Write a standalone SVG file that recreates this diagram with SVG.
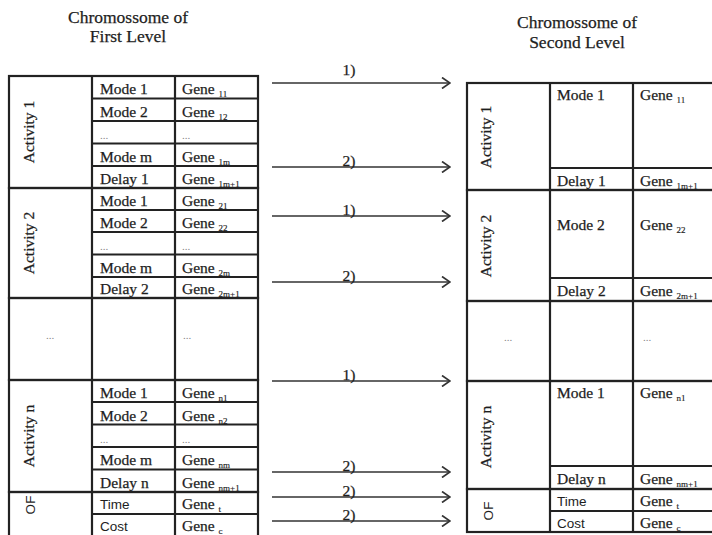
<svg xmlns="http://www.w3.org/2000/svg" width="712" height="535" viewBox="0 0 712 535">
<style>
.t{font-family:"Liberation Serif","Times New Roman",serif;font-size:15.5px;fill:#1e1e1e;stroke:#1e1e1e;stroke-width:0.25}
.ti{font-family:"Liberation Serif","Times New Roman",serif;font-size:17.5px;fill:#1e1e1e;stroke:#1e1e1e;stroke-width:0.25;text-anchor:middle}
.s{font-family:"Liberation Sans",Arial,sans-serif;font-size:13.5px;fill:#1e1e1e}
.sub{font-size:9px;fill:#1e1e1e;stroke:#1e1e1e;stroke-width:0.15}
.d{font-family:"Liberation Serif",serif;font-size:11px;fill:#888}
.g{fill:none;stroke:#222;stroke-width:2.2}
.a{fill:none;stroke:#333;stroke-width:1.7}
.lbl{font-family:"Liberation Serif","Times New Roman",serif;font-size:15.5px;fill:#1e1e1e;stroke:#1e1e1e;stroke-width:0.25;text-anchor:middle}
</style>
<defs>
<marker id="ah" viewBox="0 0 10 12" refX="9" refY="6" markerWidth="10" markerHeight="12" markerUnits="userSpaceOnUse" orient="auto">
<path d="M1,0.5 L9,6 L1,11.5" fill="none" stroke="#333" stroke-width="1.7"/>
</marker>
</defs>
<rect width="712" height="535" fill="#fff"/>

<g id="title-first">
<text class="ti" x="128" y="23">Chromossome of</text>
<text class="ti" x="128" y="42">First Level</text>
</g>
<g id="title-second">
<text class="ti" x="577" y="28">Chromossome of</text>
<text class="ti" x="577" y="48">Second Level</text>
</g>

<!-- LEFT TABLE -->
<g id="first-activity1">
<rect class="g" x="9" y="76" width="249" height="112"/>
<path class="g" d="M92,76V188M175,76V188M92,98.5H258M92,121H258M92,143.5H258M92,166H258"/>
<text class="t" transform="rotate(-90 34 132)" x="34" y="132" text-anchor="middle">Activity 1</text>
<text class="t" x="100" y="94">Mode 1</text><text class="t" x="182" y="94">Gene <tspan class="sub" dy="3">11</tspan></text>
<text class="t" x="100" y="116.5">Mode 2</text><text class="t" x="182" y="116.5">Gene <tspan class="sub" dy="3">12</tspan></text>
<text class="d" x="100" y="139">...</text><text class="d" x="182" y="139">...</text>
<text class="t" x="100" y="161.5">Mode m</text><text class="t" x="182" y="161.5">Gene <tspan class="sub" dy="3">1m</tspan></text>
<text class="t" x="100" y="184">Delay 1</text><text class="t" x="182" y="184">Gene <tspan class="sub" dy="3">1m+1</tspan></text>
</g>
<g id="first-activity2">
<rect class="g" x="9" y="188" width="249" height="110"/>
<path class="g" d="M92,188V298M175,188V298M92,210H258M92,232H258M92,254.5H258M92,277H258"/>
<text class="t" transform="rotate(-90 34 243)" x="34" y="243" text-anchor="middle">Activity 2</text>
<text class="t" x="100" y="206">Mode 1</text><text class="t" x="182" y="206">Gene <tspan class="sub" dy="3">21</tspan></text>
<text class="t" x="100" y="228">Mode 2</text><text class="t" x="182" y="228">Gene <tspan class="sub" dy="3">22</tspan></text>
<text class="d" x="100" y="250">...</text><text class="d" x="182" y="250">...</text>
<text class="t" x="100" y="272.5">Mode m</text><text class="t" x="182" y="272.5">Gene <tspan class="sub" dy="3">2m</tspan></text>
<text class="t" x="100" y="294">Delay 2</text><text class="t" x="182" y="294">Gene <tspan class="sub" dy="3">2m+1</tspan></text>
</g>
<g id="first-ellipsis">
<rect class="g" x="9" y="298" width="249" height="82"/>
<path class="g" d="M92,298V380M175,298V380"/>
<text class="d" x="50" y="339" text-anchor="middle">...</text>
<text class="d" x="183" y="339">...</text>
</g>
<g id="first-activityn">
<rect class="g" x="9" y="380" width="249" height="112"/>
<path class="g" d="M92,380V492M175,380V492M92,402H258M92,424.5H258M92,447H258M92,469.5H258"/>
<text class="t" transform="rotate(-90 34 436)" x="34" y="436" text-anchor="middle">Activity n</text>
<text class="t" x="100" y="398">Mode 1</text><text class="t" x="182" y="398">Gene <tspan class="sub" dy="3">n1</tspan></text>
<text class="t" x="100" y="420.5">Mode 2</text><text class="t" x="182" y="420.5">Gene <tspan class="sub" dy="3">n2</tspan></text>
<text class="d" x="100" y="443">...</text><text class="d" x="182" y="443">...</text>
<text class="t" x="100" y="465">Mode m</text><text class="t" x="182" y="465">Gene <tspan class="sub" dy="3">nm</tspan></text>
<text class="t" x="100" y="487.5">Delay n</text><text class="t" x="182" y="487.5">Gene <tspan class="sub" dy="3">nm+1</tspan></text>
</g>
<g id="first-of">
<rect class="g" x="9" y="492" width="249" height="50"/>
<path class="g" d="M92,492V542M175,492V542M92,514H258"/>
<text class="s" transform="rotate(-90 35 505)" x="35" y="505" text-anchor="middle">OF</text>
<text class="s" x="100" y="509">Time</text><text class="t" x="182" y="509">Gene <tspan class="sub" dy="3">t</tspan></text>
<text class="s" x="100" y="531">Cost</text><text class="t" x="182" y="531">Gene <tspan class="sub" dy="3">c</tspan></text>
</g>

<!-- RIGHT TABLE -->
<g id="second-activity1">
<rect class="g" x="467" y="83" width="260" height="107"/>
<path class="g" d="M550,83V190M633,83V190M550,168H727"/>
<text class="t" transform="rotate(-90 491 137)" x="491" y="137" text-anchor="middle">Activity 1</text>
<text class="t" x="557" y="100">Mode 1</text><text class="t" x="640" y="100">Gene <tspan class="sub" dy="3">11</tspan></text>
<text class="t" x="557" y="186">Delay 1</text><text class="t" x="640" y="186">Gene <tspan class="sub" dy="3">1m+1</tspan></text>
</g>
<g id="second-activity2">
<rect class="g" x="467" y="190" width="260" height="111"/>
<path class="g" d="M550,190V301M633,190V301M550,278H727"/>
<text class="t" transform="rotate(-90 491 246)" x="491" y="246" text-anchor="middle">Activity 2</text>
<text class="t" x="557" y="230">Mode 2</text><text class="t" x="640" y="230">Gene <tspan class="sub" dy="3">22</tspan></text>
<text class="t" x="557" y="296">Delay 2</text><text class="t" x="640" y="296">Gene <tspan class="sub" dy="3">2m+1</tspan></text>
</g>
<g id="second-ellipsis">
<rect class="g" x="467" y="301" width="260" height="80"/>
<path class="g" d="M550,301V381M633,301V381"/>
<text class="d" x="508" y="341" text-anchor="middle">...</text>
<text class="d" x="643" y="341">...</text>
</g>
<g id="second-activityn">
<rect class="g" x="467" y="381" width="260" height="108"/>
<path class="g" d="M550,381V489M633,381V489M550,466H727"/>
<text class="t" transform="rotate(-90 491 437)" x="491" y="437" text-anchor="middle">Activity n</text>
<text class="t" x="557" y="398">Mode 1</text><text class="t" x="640" y="398">Gene <tspan class="sub" dy="3">n1</tspan></text>
<text class="t" x="557" y="484">Delay n</text><text class="t" x="640" y="484">Gene <tspan class="sub" dy="3">nm+1</tspan></text>
</g>
<g id="second-of">
<rect class="g" x="467" y="489" width="260" height="43"/>
<path class="g" d="M550,489V532M633,489V532M550,511H727"/>
<text class="s" transform="rotate(-90 493 511)" x="493" y="511" text-anchor="middle">OF</text>
<text class="s" x="557" y="506">Time</text><text class="t" x="640" y="506">Gene <tspan class="sub" dy="3">t</tspan></text>
<text class="s" x="557" y="528">Cost</text><text class="t" x="640" y="528">Gene <tspan class="sub" dy="3">c</tspan></text>
</g>

<!-- CONNECTORS -->
<g id="connectors">
<path class="a" marker-end="url(#ah)" d="M272,83H450"/>
<path class="a" marker-end="url(#ah)" d="M272,167H450"/>
<path class="a" marker-end="url(#ah)" d="M272,216H450"/>
<path class="a" marker-end="url(#ah)" d="M272,282H450"/>
<path class="a" marker-end="url(#ah)" d="M272,381H450"/>
<path class="a" marker-end="url(#ah)" d="M272,472H450"/>
<path class="a" marker-end="url(#ah)" d="M272,497H450"/>
<path class="a" marker-end="url(#ah)" d="M272,521H450"/>
<text class="lbl" x="349" y="75">1)</text>
<text class="lbl" x="349" y="166">2)</text>
<text class="lbl" x="349" y="215">1)</text>
<text class="lbl" x="349" y="281">2)</text>
<text class="lbl" x="349" y="380">1)</text>
<text class="lbl" x="349" y="471">2)</text>
<text class="lbl" x="349" y="496">2)</text>
<text class="lbl" x="349" y="520">2)</text>
</g>
</svg>
